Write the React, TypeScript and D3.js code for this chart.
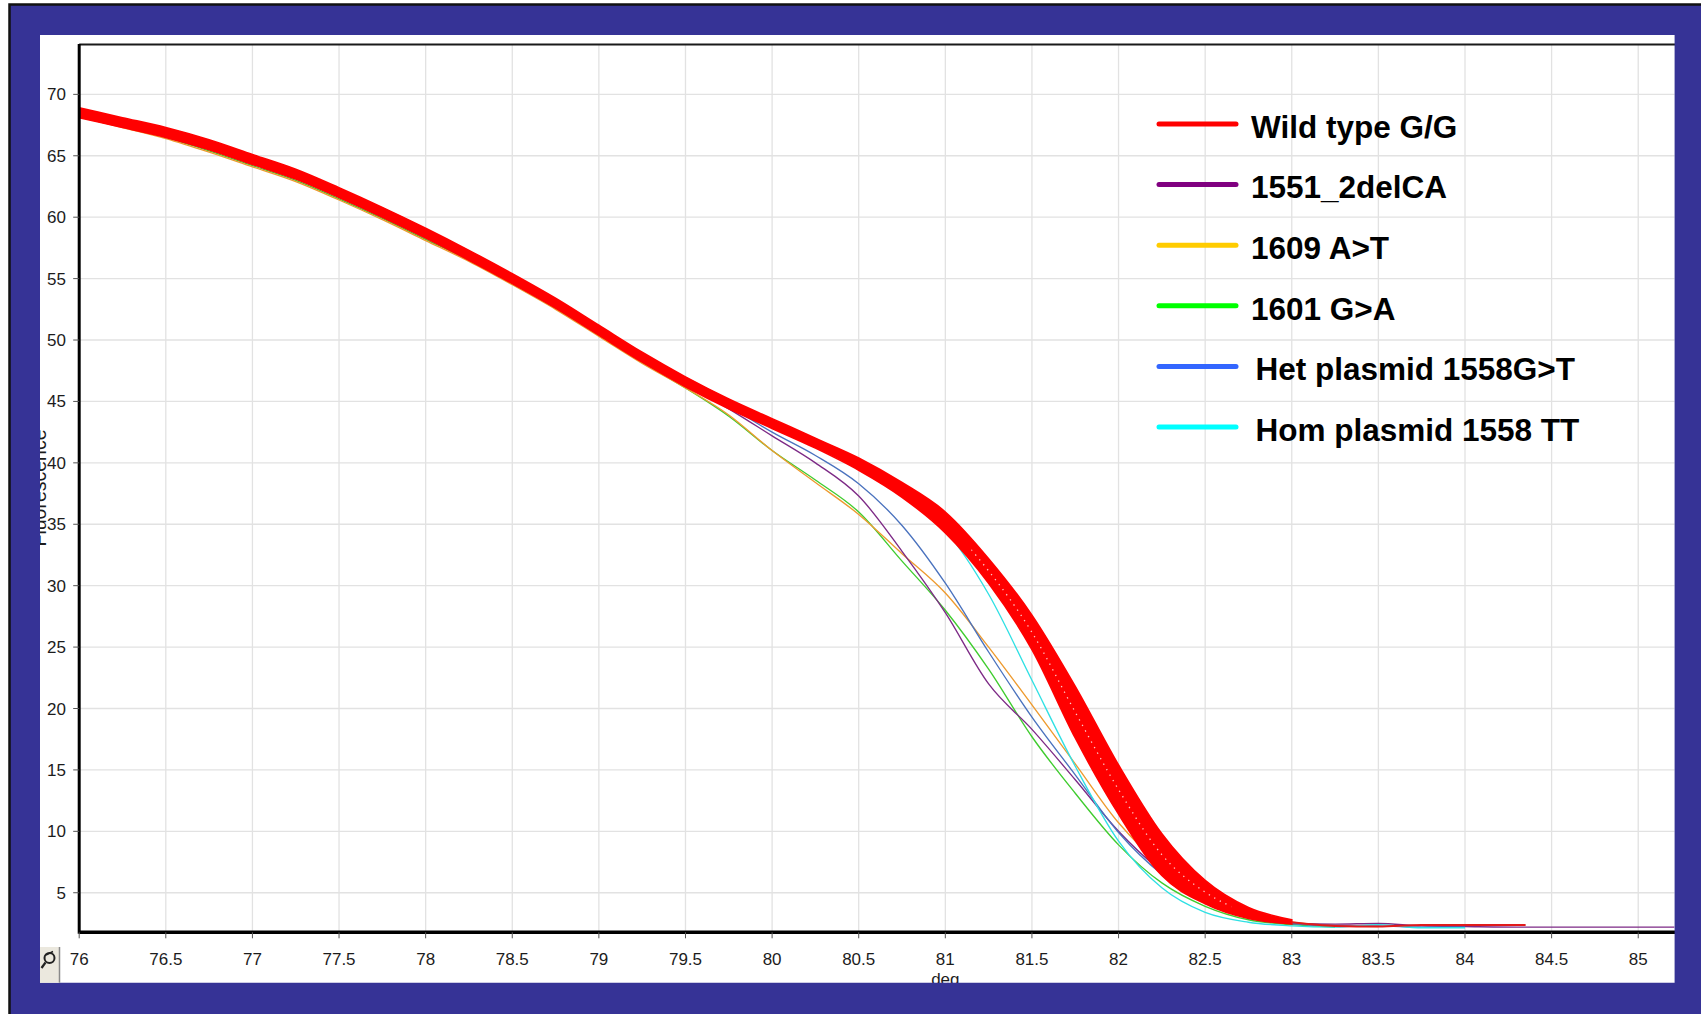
import React from 'react';
import * as d3 from 'd3';

// Melting temperature grid (deg C)
const temps = [
  76, 76.25, 76.5, 76.75, 77, 77.25, 77.5, 77.75, 78, 78.25, 78.5, 78.75, 79, 79.25,
  79.5, 79.75, 80, 80.25, 80.5, 80.75, 81, 81.25, 81.5, 81.75, 82, 82.25, 82.5, 82.75, 83,
  83.25, 83.5, 83.75, 84, 84.35, 84.5, 85, 85.21,
];

// Wild type replicates span a band: late-melting edge and early-melting edge
const wildTypeUpper = [
  68.9, 68.1, 67.3, 66.3, 65.1, 63.9, 62.4, 60.8, 59.1, 57.3, 55.4, 53.4, 51.2, 49.0,
  47.0, 45.2, 43.6, 42.0, 40.4, 38.4, 36.0, 32.2, 27.6, 21.8, 15.4, 9.8, 6.0, 3.8, 2.8,
];
const wildTypeLower = [
  68.1, 67.3, 66.5, 65.5, 64.3, 63.1, 61.6, 60.0, 58.3, 56.5, 54.6, 52.6, 50.4, 48.2,
  46.2, 44.4, 42.8, 41.2, 39.4, 37.2, 34.3, 30.2, 24.8, 17.6, 11.4, 6.4, 4.1, 2.9, 2.45,
];
const wildTypeTailTemps = [83, 83.25, 83.5, 83.75, 84, 84.35];
const wildTypeTail = [2.6, 2.3, 2.25, 2.38, 2.38, 2.38];

const del1551 = [
  68.3, 67.4, 66.6, 65.6, 64.4, 63.2, 61.7, 60.1, 58.4, 56.6, 54.8, 52.8, 50.6, 48.4,
  46.4, 44.4, 42.2, 40.0, 37.3, 32.8, 27.8, 22.0, 18.3, 14.2, 10.0, 6.7, 4.2, 3.0, 2.5,
  2.45, 2.5, 2.3, 2.25, 2.2, 2.2, 2.2, 2.2,
];
const a1609t = [
  68.2, 67.3, 66.4, 65.3, 64.1, 62.9, 61.4, 59.8, 58.1, 56.4, 54.5, 52.5, 50.3, 48.1,
  46.1, 43.9, 41.0, 38.4, 35.8, 32.6, 29.4, 25.0, 20.3, 15.5, 10.7, 7.2, 4.8, 3.3, 2.6,
  2.35, 2.25, null, null, null, null, null, null,
];
const g1601a = [
  68.3, 67.4, 66.5, 65.4, 64.2, 63.0, 61.5, 59.9, 58.2, 56.5, 54.6, 52.6, 50.4, 48.2,
  46.1, 43.8, 41.0, 38.6, 36.0, 32.0, 28.0, 23.2, 17.7, 13.1, 8.9, 5.8, 3.9, 2.8, 2.4,
  2.2, null, null, null, null, null, null, null,
];
const het1558 = [
  68.4, 67.5, 66.7, 65.7, 64.5, 63.3, 61.8, 60.2, 58.5, 56.7, 54.9, 52.9, 50.7, 48.5,
  46.5, 44.6, 42.5, 40.6, 38.3, 34.9, 30.2, 24.6, 19.3, 14.6, 9.9, 6.5, 4.3, 3.1, 2.5,
  2.3, 2.3, 2.2, 2.2, null, null, null, null,
];
const hom1558 = [
  68.2, 67.4, 66.6, 65.6, 64.4, 63.2, 61.8, 60.3, 58.6, 56.8, 55.0, 53.0, 50.8, 48.6,
  46.9, 45.1, 43.5, 41.8, 39.7, 37.4, 34.5, 29.3, 22.3, 15.3, 9.2, 5.4, 3.4, 2.6, 2.3,
  2.2, 2.4, 2.15, 2.15, null, null, null, null,
];

const legendLabels = [
  'Wild type G/G',
  '1551_2delCA',
  '1609 A>T',
  '1601 G>A',
  'Het plasmid 1558G>T',
  'Hom plasmid 1558 TT',
];

const xTicks = [76, 76.5, 77, 77.5, 78, 78.5, 79, 79.5, 80, 80.5, 81, 81.5, 82, 82.5, 83, 83.5, 84, 84.5, 85];
const yTicks = [5, 10, 15, 20, 25, 30, 35, 40, 45, 50, 55, 60, 65, 70];

const legendColors = ['#ff0000', '#800080', '#ffcc00', '#00ff00', '#3366ff', '#00ffff'];
const traceColors = {
  del1551: '#7d2a86',
  a1609t: '#ee9a2e',
  g1601a: '#3fcc2e',
  het1558: '#4a72be',
  hom1558: '#2fe0e4',
};

const FONT = '"Liberation Sans", Arial, Helvetica, sans-serif';

export default function App() {
  const W = 1701;
  const H = 1014;
  const left = 79.2;
  const right = 1674.6;
  const top = 44;
  const bottom = 932.3;

  const x = d3.scaleLinear().domain([76, 85.21]).range([left, right]);
  const y = d3.scaleLinear().domain([1.78, 74.1]).range([bottom, top]);

  const line = d3
    .line<number | null>()
    .defined((d) => d != null)
    .x((_, i) => x(temps[i]))
    .y((d) => y(d as number))
    .curve(d3.curveMonotoneX);

  const band = d3
    .area<number>()
    .x((_, i) => x(temps[i]))
    .y0((_, i) => y(wildTypeLower[i]))
    .y1((d) => y(d))
    .curve(d3.curveMonotoneX);

  // gaps between the stacked replicate traces inside the band
  const bandGap = d3
    .line<number>()
    .x((_, i) => x(temps[i]))
    .y((d, i) => y((d + wildTypeLower[i]) / 2))
    .curve(d3.curveMonotoneX);

  const tailLine = d3
    .line<number>()
    .x((_, i) => x(wildTypeTailTemps[i]))
    .y((d) => y(d))
    .curve(d3.curveMonotoneX);

  const traces: [string, (number | null)[]][] = [
    [traceColors.g1601a, g1601a],
    [traceColors.a1609t, a1609t],
    [traceColors.del1551, del1551],
    [traceColors.het1558, het1558],
    [traceColors.hom1558, hom1558],
  ];

  // blue frame with a window cut out for the chart panel
  const panel = { x0: 40, y0: 35, x1: 1674.6, y1: 982.7 };
  const framePath =
    `M9.5,4.5H${W + 5}V${H + 5}H9.5Z` +
    `M${panel.x0},${panel.y0}V${panel.y1}H${panel.x1}V${panel.y0}Z`;

  return (
    <svg
      width={W}
      height={H}
      viewBox={`0 0 ${W} ${H}`}
      style={{ position: 'absolute', left: 0, top: 0, display: 'block' }}
    >
      <rect x={0} y={0} width={W} height={H} fill="#ffffff" />
      <defs>
        <clipPath id="plotClip">
          <rect x={left} y={top} width={right - left} height={bottom - top} />
        </clipPath>
        <clipPath id="steepClip">
          <rect x={x(81.15)} y={top} width={x(82.65) - x(81.15)} height={bottom - top} />
        </clipPath>
      </defs>

      {/* grid */}
      <g stroke="#e2e2e2" strokeWidth={1.3}>
        {xTicks.slice(1).map((t) => (
          <line key={`gx${t}`} x1={x(t)} x2={x(t)} y1={top} y2={bottom} />
        ))}
        {yTicks.map((t) => (
          <line key={`gy${t}`} x1={left} x2={right} y1={y(t)} y2={y(t)} />
        ))}
      </g>

      {/* melt curves */}
      <g clipPath="url(#plotClip)" fill="none">
        {traces.map(([c, vals], k) => (
          <path key={k} d={line(vals) || ''} stroke={c} strokeWidth={1.35} strokeLinejoin="round" />
        ))}
        <path d={band(wildTypeUpper) || ''} fill="#ff0000" stroke="#ff0000" strokeWidth={1.6} />
        <path
          d={bandGap(wildTypeUpper) || ''}
          clipPath="url(#steepClip)"
          stroke="#ffffff"
          strokeOpacity={0.8}
          strokeWidth={1.3}
          strokeDasharray="1.3 5"
        />
        <path d={tailLine(wildTypeTail) || ''} stroke="#e21b1b" strokeWidth={2} />
      </g>

      {/* axes */}
      <line x1={left} x2={right + 2} y1={top + 0.5} y2={top + 0.5} stroke="#1a1a1a" strokeWidth={2} />
      <line x1={left} x2={left} y1={top} y2={bottom + 1.5} stroke="#000" strokeWidth={3} />
      <line x1={left} x2={right + 2} y1={bottom} y2={bottom} stroke="#000" strokeWidth={3.4} />
      <g stroke="#555" strokeWidth={1}>
        {yTicks.map((t) => (
          <line key={`ty${t}`} x1={left - 6} x2={left} y1={y(t)} y2={y(t)} />
        ))}
        {xTicks.map((t) => (
          <line key={`tx${t}`} x1={x(t)} x2={x(t)} y1={bottom} y2={bottom + 6} />
        ))}
      </g>
      <g fontFamily={FONT} fontSize={17} fill="#1c1c1c">
        {yTicks.map((t) => (
          <text key={`ly${t}`} x={66} y={y(t) + 6} textAnchor="end">
            {t}
          </text>
        ))}
        {xTicks.map((t) => (
          <text key={`lx${t}`} x={x(t)} y={964.5} textAnchor="middle">
            {t}
          </text>
        ))}
        <text x={x(81)} y={985} textAnchor="middle">
          deg
        </text>
        <text
          transform={`translate(45.5,488) rotate(-90)`}
          textAnchor="middle"
          fontSize={19.5}
        >
          Fluorescence
        </text>
      </g>

      {/* legend */}
      <g fontFamily={FONT} fontWeight="bold" fontSize={31.5} fill="#000">
        {legendLabels.map((lab, i) => {
          const ly = 124 + i * 60.6;
          return (
            <g key={lab}>
              <line
                x1={1159}
                x2={1236}
                y1={ly}
                y2={ly}
                stroke={legendColors[i]}
                strokeWidth={5}
                strokeLinecap="round"
              />
              <text x={i < 4 ? 1251 : 1255.5} y={ly + 13.8}>
                {lab}
              </text>
            </g>
          );
        })}
      </g>

      {/* outer frame */}
      <path d={framePath} fill="#363396" fillRule="evenodd" />
      <path d={`M9.5,${H + 5}V4.5H${W + 5}`} fill="none" stroke="#111" strokeWidth={2.5} />

      {/* zoom button */}
      <g>
        <rect x={40} y={947} width={20} height={35.7} fill="#ebe8de" />
        <line x1={59.5} x2={59.5} y1={947} y2={982.7} stroke="#8a8a8a" strokeWidth={1.5} />
        <circle cx={49.5} cy={958} r={5} fill="none" stroke="#222" strokeWidth={2} />
        <line x1={45.5} x2={41.5} y1={962.5} y2={968} stroke="#222" strokeWidth={2.2} />
        <line x1={46} x2={53} y1={955} y2={951.5} stroke="#222" strokeWidth={1.4} />
      </g>
    </svg>
  );
}
